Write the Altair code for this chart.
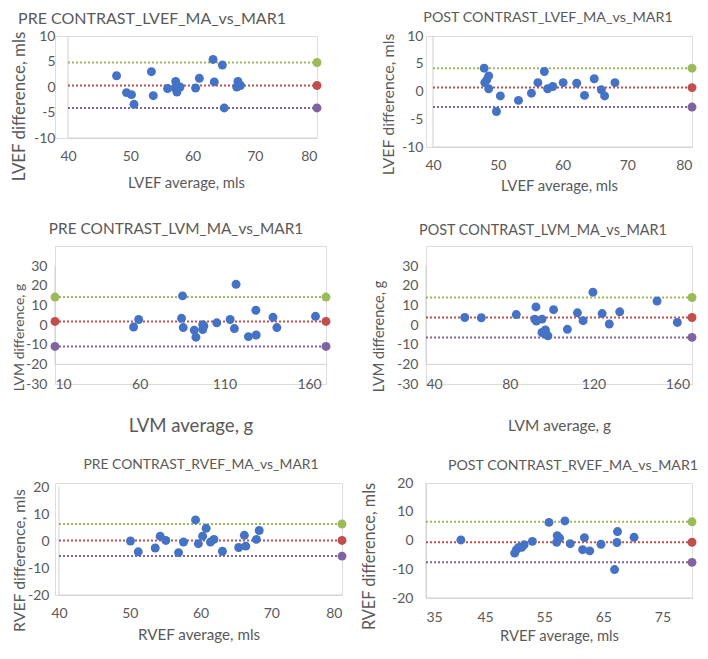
import altair as alt
import pandas as pd

FONT = "Lato"
GREY = "#595959"
AXIS_LINE = "#D0D0D0"
PT = "#4472C4"
C_UP, C_MEAN, C_LOW = "#9BBB59", "#C0504D", "#8064A2"

# ---------------- data ----------------
# 1. PRE CONTRAST LVEF
p1_x = [47.8, 49.4, 50.2, 50.6, 53.4, 53.7, 56.0, 57.2, 57.3, 57.5, 58.0, 60.5, 61.1, 63.3, 63.5, 64.8, 65.1, 67.1, 67.3, 67.7]
p1_y = [2.2, -1.1, -1.5, -3.4, 3.0, -1.7, -0.3, -0.2, 1.1, -1.0, 0.0, -0.2, 1.7, 5.4, 1.0, 4.3, -4.1, 0.0, 1.1, 0.3]
p1_lim = [4.8, 0.3, -4.1]

# 2. POST CONTRAST LVEF
p2_x = [47.9, 48.0, 48.3, 48.6, 48.6, 49.8, 50.4, 53.2, 55.2, 56.2, 57.2, 57.7, 58.5, 60.1, 62.2, 63.4, 64.9, 66.0, 66.5, 68.1]
p2_y = [4.2, 1.6, 2.1, 2.8, 0.5, -3.6, -0.8, -1.6, -0.3, 1.6, 3.6, 0.5, 0.9, 1.6, 1.5, -0.7, 2.3, 0.3, -0.8, 1.6]
p2_lim = [4.2, 0.7, -2.8]

# 3. PRE CONTRAST LVM
p3_x = [56.4, 59.4, 84.7, 85.3, 85.7, 92.2, 93.2, 97.2, 97.2, 97.9, 105.5, 113.4, 115.9, 116.9, 124.2, 128.6, 128.8, 138.7, 141.0, 163.8]
p3_y = [-1.0, 2.8, 3.4, 14.8, -1.3, -2.6, -6.2, -2.3, 0.2, -0.5, 1.1, 2.8, -1.8, 20.7, -5.9, 7.5, -5.1, 3.9, -1.3, 4.4]
p3_lim = [14.2, 1.8, -10.9]

# 4. POST CONTRAST LVM
p4_x = [58.5, 66.4, 83.1, 91.9, 92.5, 92.7, 95.4, 95.4, 97.0, 97.3, 98.2, 100.9, 107.5, 112.3, 115.0, 119.7, 124.1, 127.5, 132.5, 150.3, 160.0]
p4_y = [3.8, 3.7, 5.3, 3.0, 9.2, 2.0, 3.0, -3.8, -2.5, -4.7, -5.5, 7.8, -2.2, 6.2, 2.2, 16.7, 5.8, 0.5, 6.7, 12.2, 1.3]
p4_lim = [14.0, 3.8, -6.3]

# 5. PRE CONTRAST RVEF
p5_x = [50.1, 51.2, 53.6, 54.3, 55.1, 56.9, 57.6, 59.3, 59.7, 60.3, 60.8, 61.4, 61.9, 63.1, 65.4, 66.2, 66.4, 67.9, 68.3]
p5_y = [0.0, -4.0, -2.6, 1.8, 0.2, -4.3, -0.4, 7.8, -1.0, 1.8, 4.7, -0.4, 0.6, -3.8, -2.4, 2.1, -1.9, 0.6, 3.9]
p5_lim = [6.3, 0.2, -5.6]

# 6. POST CONTRAST RVEF
p6_x = [40.9, 50.0, 50.3, 50.7, 51.2, 51.6, 53.0, 55.8, 57.2, 57.1, 57.6, 58.5, 59.4, 61.8, 61.5, 62.7, 64.6, 66.9, 67.4, 67.3, 70.2]
p6_y = [0.2, -4.4, -3.2, -2.4, -2.4, -1.5, -0.3, 6.3, 1.7, -0.6, 0.8, 6.8, -1.1, 1.0, -3.2, -3.6, -1.3, -10.1, 3.1, -0.7, 1.1]
p6_lim = [6.5, -0.6, -7.6]


def panel(title, xs, ys, lim, xr, xticks, yr, yticks, xtitle, ytitle,
          pw, ph, dot_ends, ext_l=0, ext_t=0, axis_y=None, axis_top=None,
          title_fs=14, xt_fs=14.5, yt_fs=15, title_dx=0, title_offset=8,
          xlp=11, xtp=8, ylp=12, ytx=-40, yty=70):
    """pw/ph: pixel size of the real plot area; ext_l/ext_t: extra pixels
    of empty room on the left/top of the cell."""
    xu = (xr[1] - xr[0]) / pw
    yu = (yr[1] - yr[0]) / ph
    xdom = [xr[0] - ext_l * xu, xr[1]]
    ydom = [yr[0], yr[1] + ext_t * yu]
    if axis_y is None:
        axis_y = yr[0]
    if axis_top is None:
        axis_top = yr[1]
    xsc = alt.Scale(domain=xdom, nice=False, zero=False)
    ysc = alt.Scale(domain=ydom, nice=False, zero=False)
    common = dict(grid=False, ticks=False, tickSize=0, domain=False,
                  labelFont=FONT, labelFontSize=14, labelColor=GREY,
                  titleFont=FONT, titleColor=GREY, titleFontWeight="normal",
                  labelExpr="'' + datum.value")
    xax = alt.Axis(title=xtitle, values=xticks, labelPadding=xlp,
                   titlePadding=xtp, titleFontSize=xt_fs, **common)
    yax = alt.Axis(title=ytitle, values=yticks, labelPadding=ylp,
                   titleFontSize=yt_fs, titleX=ytx, titleY=yty,
                   offset=-ext_l, **common)

    pts = pd.DataFrame({"x": xs, "y": ys})
    lines = pd.DataFrame({"x": [xr[0]] * 3, "x2": [xr[1]] * 3,
                          "y": lim, "c": [C_UP, C_MEAN, C_LOW]})
    ends = pd.DataFrame([{"x": ex, "y": v, "c": c}
                         for ex in dot_ends
                         for v, c in zip(lim, [C_UP, C_MEAN, C_LOW])])
    ax_lines = pd.DataFrame({
        "x": [xr[0], xr[0]], "x2": [xr[0], xr[1]],
        "y": [axis_y, axis_y], "y2": [axis_top, axis_y]})

    X = alt.X("x:Q", scale=xsc, axis=xax)
    Y = alt.Y("y:Q", scale=ysc, axis=yax)
    axl = alt.Chart(ax_lines).mark_rule(color=AXIS_LINE, strokeWidth=1).encode(
        x=X, x2="x2:Q", y=Y, y2="y2:Q")
    rule = alt.Chart(lines).mark_rule(strokeDash=[2, 2], strokeWidth=2).encode(
        x=X, x2="x2:Q", y=Y, color=alt.Color("c:N", scale=None))
    end = alt.Chart(ends).mark_circle(size=80, opacity=1).encode(
        x=X, y=Y, color=alt.Color("c:N", scale=None))
    scat = alt.Chart(pts).mark_circle(size=80, opacity=1, color=PT).encode(
        x=X, y=Y)
    return alt.layer(axl, rule, end, scat).properties(
        width=pw + ext_l, height=ph + ext_t,
        title=alt.TitleParams(title, font=FONT, fontSize=title_fs, color=GREY,
                              fontWeight="normal", anchor="middle",
                              dx=title_dx, offset=title_offset),
    )


EF_TICKS = [40, 50, 60, 70, 80]
LVM_Y = [-30, -20, -10, 0, 10, 20, 30]

c1 = panel("PRE CONTRAST_LVEF_MA_vs_MAR1", p1_x, p1_y, p1_lim, [40, 80], EF_TICKS,
           [-10, 10], [-10, -5, 0, 5, 10], "LVEF average, mls", "LVEF difference, mls",
           249, 102, [80], ext_l=13, title_fs=16, xt_fs=14.9, yt_fs=16.9,
           title_dx=-34, title_offset=2, xlp=11, xtp=12, ylp=13, ytx=-39.1, yty=70)
c2 = panel("POST CONTRAST_LVEF_MA_vs_MAR1", p2_x, p2_y, p2_lim, [40, 80], EF_TICKS,
           [-10, 10], [-10, -5, 0, 5, 10], "LVEF average, mls", "LVEF difference, mls",
           259, 111, [80], ext_l=7, title_fs=14.3, xt_fs=14.9, yt_fs=16,
           title_dx=-11, title_offset=3.4, xlp=11, xtp=6, ylp=10, ytx=-37, yty=68)
c3 = panel("PRE CONTRAST_LVM_MA_vs_MAR1", p3_x, p3_y, p3_lim, [10, 170], [10, 60, 110, 160],
           [-30, 30], LVM_Y, "LVM average, g", "LVM difference, g",
           271, 118, [10, 170], ext_t=20, axis_y=-20, axis_top=30,
           title_fs=15.4, xt_fs=18.6, yt_fs=14, title_dx=-14.5, title_offset=8.3,
           xlp=-7, xtp=25, ylp=8, ytx=-29, yty=91)
c4 = panel("POST CONTRAST_LVM_MA_vs_MAR1", p4_x, p4_y, p4_lim, [40, 167], [40, 80, 120, 160],
           [-30, 30], LVM_Y, "LVM average, g", "LVM difference, g",
           266, 118, [167], ext_t=20, axis_y=-20, axis_top=30,
           title_fs=14.4, xt_fs=15.4, yt_fs=14.5, title_dx=-16, title_offset=7.8,
           xlp=-7, xtp=27, ylp=8, ytx=-40, yty=90)
c5 = panel("PRE CONTRAST_RVEF_MA_vs_MAR1", p5_x, p5_y, p5_lim, [40, 80], EF_TICKS,
           [-20, 20], [-20, -10, 0, 10, 20], "RVEF average, mls", "RVEF difference, mls",
           283, 108, [80], ext_l=4, ext_t=4, title_fs=13.9, xt_fs=15.2, yt_fs=15.8,
           title_dx=2.5, title_offset=7.9, xlp=11, xtp=7, ylp=10, ytx=-31.2, yty=77)
c6 = panel("POST CONTRAST_RVEF_MA_vs_MAR1", p6_x, p6_y, p6_lim, [35, 80], [35, 45, 55, 65, 75],
           [-20, 20], [-20, -10, 0, 10, 20], "RVEF average, mls", "RVEF difference, mls",
           266, 115, [80], title_fs=14.2, xt_fs=14.8, yt_fs=16.3,
           title_dx=14, title_offset=3, xlp=12, xtp=4, ylp=13, ytx=-49, yty=73)

chart = alt.concat(
    c1, c2, c3, c4, c5, c6, columns=2, bounds="flush",
    spacing={"row": 99, "column": 84},
).properties(
    padding={"left": 2, "top": 2, "right": 0, "bottom": 0}
).configure_view(stroke=None).configure(background="white")

chart.save("out.html", embed_options={"renderer": "svg", "actions": False})
